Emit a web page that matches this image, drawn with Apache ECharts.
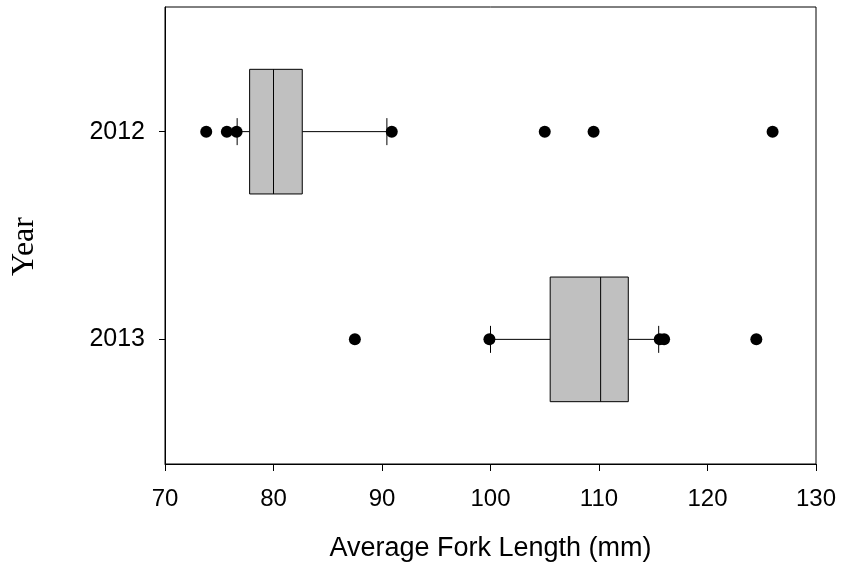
<!DOCTYPE html>
<html>
<head>
<meta charset="utf-8">
<script src="https://cdn.jsdelivr.net/npm/echarts@6/dist/echarts.min.js"></script>
<style>
html,body{margin:0;padding:0;background:#fff;}
#chart{width:841px;height:567px;}
</style>
</head>
<body>
<div id="chart"></div>
<script>
// Data
var years = ['2012', '2013'];
var lowWhisker = [76.65, 100.0];
var q1 = [77.8, 105.5];
var median = [80.0, 110.15];
var q3 = [82.65, 112.7];
var highWhisker = [90.45, 115.5];
var outliers2012 = [73.8, 75.7, 76.6, 90.9, 105.0, 109.5, 126.0];
var outliers2013 = [87.5, 99.9, 115.6, 116.0, 124.5];
var xTicks = [70, 80, 90, 100, 110, 120, 130];

var boxData = years.map(function (y, i) {
  return [i, lowWhisker[i], q1[i], median[i], q3[i], highWhisker[i]];
});
var outlierData = [];
outliers2012.forEach(function (v) { outlierData.push([v, 0]); });
outliers2013.forEach(function (v) { outlierData.push([v, 1]); });

var chart = echarts.init(document.getElementById('chart'));
var lineColor = '#000';

function renderBox(params, api) {
  var idx = api.value(0);
  var lo = api.value(1), a = api.value(2), m = api.value(3), b = api.value(4), hi = api.value(5);
  var halfBox = 0.3, halfCap = 0.065;
  var pLo = api.coord([lo, idx]);
  var pA = api.coord([a, idx]);
  var pM = api.coord([m, idx]);
  var pB = api.coord([b, idx]);
  var pHi = api.coord([hi, idx]);
  var top = api.coord([a, idx - halfBox])[1];
  var bot = api.coord([a, idx + halfBox])[1];
  var capTop = api.coord([a, idx - halfCap])[1];
  var capBot = api.coord([a, idx + halfCap])[1];
  var ls = { stroke: lineColor, lineWidth: 1 };
  return {
    type: 'group',
    children: [
      { type: 'line', shape: { x1: pLo[0], y1: pLo[1], x2: pA[0], y2: pA[1] }, style: ls },
      { type: 'line', shape: { x1: pB[0], y1: pB[1], x2: pHi[0], y2: pHi[1] }, style: ls },
      { type: 'line', shape: { x1: pLo[0], y1: capTop, x2: pLo[0], y2: capBot }, style: ls },
      { type: 'line', shape: { x1: pHi[0], y1: capTop, x2: pHi[0], y2: capBot }, style: ls },
      { type: 'rect', shape: { x: pA[0], y: top, width: pB[0] - pA[0], height: bot - top }, style: { fill: '#c0c0c0', stroke: lineColor, lineWidth: 1 } },
      { type: 'line', shape: { x1: pM[0], y1: top, x2: pM[0], y2: bot }, style: ls }
    ]
  };
}

var option = {
  animation: false,
  backgroundColor: '#fff',
  grid: {
    left: 165, right: 25, top: 7, bottom: 103,
    outerBoundsMode: 'none',
    containLabel: false,
    show: true, borderColor: lineColor, borderWidth: 1, backgroundColor: 'transparent'
  },
  xAxis: {
    type: 'value',
    min: 70, max: 130, interval: 10,
    name: 'Average Fork Length (mm)',
    nameLocation: 'middle',
    nameGap: 71,
    nameTextStyle: { fontFamily: 'Liberation Sans', fontSize: 27, color: '#000' },
    axisLine: { show: true, onZero: false, lineStyle: { color: lineColor, width: 1 } },
    axisTick: { show: true, inside: false, length: 7, lineStyle: { color: lineColor } },
    axisLabel: {
      margin: 23, fontFamily: 'Liberation Sans', fontSize: 24, color: '#000',
      formatter: function (v) { return xTicks.indexOf(v) >= 0 ? String(v) : ''; }
    },
    splitLine: { show: false }
  },
  yAxis: {
    type: 'value',
    inverse: true,
    min: -0.6, max: 1.6,
    name: 'Year',
    nameLocation: 'middle',
    nameGap: 124,
    nameTextStyle: { fontFamily: 'Liberation Serif', fontSize: 32, color: '#000', padding: [0, 22, 0, 0] },
    axisLine: { show: true, onZero: false, lineStyle: { color: lineColor, width: 1 } },
    axisTick: { show: true, inside: false, length: 6, customValues: [0, 1], lineStyle: { color: lineColor } },
    axisLabel: {
      margin: 20, fontFamily: 'Liberation Sans', fontSize: 25, color: '#000',
      customValues: [0, 1],
      formatter: function (v) { return years[Math.round(v)]; }
    },
    splitLine: { show: false }
  },
  series: [
    {
      type: 'custom',
      renderItem: renderBox,
      encode: { x: [1, 2, 3, 4, 5], y: 0 },
      data: boxData,
      z: 2
    },
    {
      type: 'scatter',
      data: outlierData,
      symbol: 'circle',
      symbolSize: 12,
      itemStyle: { color: '#000', opacity: 1 },
      z: 3
    }
  ]
};
chart.setOption(option);
</script>
</body>
</html>
